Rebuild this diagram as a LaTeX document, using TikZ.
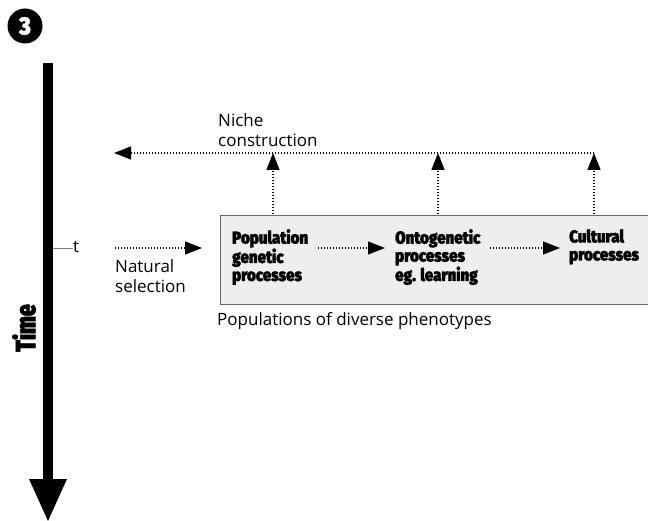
\documentclass[tikz,border=0pt]{standalone}
\usepackage{fontspec}
\setmainfont{Open Sans}
\newfontfamily\heavyfont{Fira Sans}[UprightFont=* Black,FakeBold=1.5,FakeStretch=0.87]
\newfontfamily\timefont{Fira Sans}[UprightFont=* Black,FakeBold=1.5,FakeStretch=0.76]
\usetikzlibrary{arrows.meta}
\begin{document}
\begin{tikzpicture}[x=1pt,y=-1pt,
  dotarrow/.style={line width=1.3pt,dash pattern=on 1.3pt off 1.7pt,-{Triangle[length=17pt,width=13pt]}},
  lbl/.style={font=\fontsize{17}{20}\selectfont,align=left,inner sep=0pt,anchor=north west},
  boxlbl/.style={font=\heavyfont\fontsize{17.4}{18}\selectfont,align=left,inner sep=0pt,anchor=north west}]
\useasboundingbox (0,0) rectangle (648,521);
% badge
\node[circle,fill=black,minimum size=35pt,inner sep=0pt,text=white,font=\heavyfont\fontsize{25}{25}\selectfont] (badge) at (25,26) {3};
% time axis
\coordinate (ttop) at (48,63);
\coordinate (tbot) at (48,482);
\draw[line width=10pt] (ttop) -- (tbot);
\fill (29,479) -- (67,479) -- (48,521) -- cycle;
\node[rotate=90,font=\timefont\fontsize{28}{28}\selectfont,inner sep=0pt] (time) at (24,328) {Time};
% tick t
\coordinate (tick) at (53,248);
\node[lbl,anchor=base west] (t) at (73,253) {t};
\draw[gray,line width=0.8pt] (tick) -- (tick -| t.west);
% population box
\node[draw=black!60,line width=1.2pt,fill=gray!13,minimum width=429pt,minimum height=89pt,inner sep=0pt,anchor=north west] (box) at (220,215) {};
\node[lbl] (pop) at (217,312) {Populations of diverse phenotypes};
\node[boxlbl] (pg) at (232,229) {Population\\genetic\\processes};
\node[boxlbl] (onto) at (395,229) {Ontogenetic\\processes\\eg. learning};
\node[boxlbl] (cult) at (569,229) {Cultural\\processes};
\coordinate (a1) at (318,248);
\coordinate (a2) at (490,248);
\draw[dotarrow] (a1) -- ([xshift=-10pt]onto.west |- a1);
\draw[dotarrow] (a2) -- ([xshift=-9pt]cult.west |- a2);
% natural selection
\coordinate (ns1) at (115,248);
\draw[dotarrow] (ns1) -- ([xshift=-18pt]box.west |- ns1);
\node[lbl] (nat) at (115,259) {Natural\\selection};
% niche construction
\node[lbl] (niche) at (218,113) {Niche\\construction};
\coordinate (nr) at (594,153);
\coordinate (nl) at (114,153);
\draw[dotarrow] (nr) -- (nl);
\foreach \x/\n in {273/a,438/b,594/c}{
  \coordinate (up\n) at (\x,214);
  \draw[dotarrow] (up\n) -- (\x,153);
}
\end{tikzpicture}
\end{document}
